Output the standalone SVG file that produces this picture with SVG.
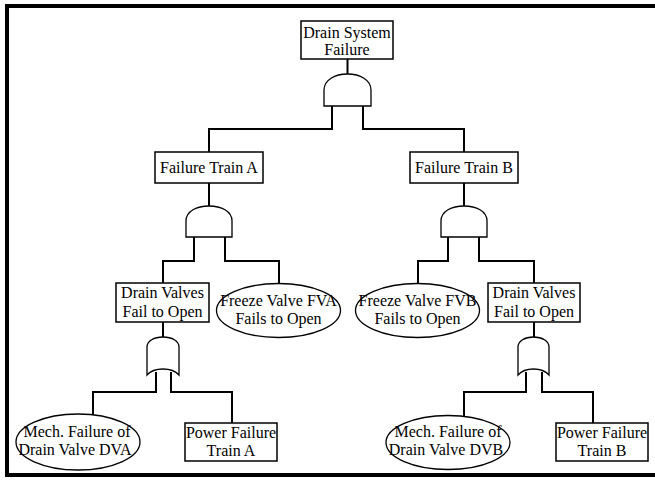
<svg xmlns="http://www.w3.org/2000/svg" width="655" height="480" viewBox="0 0 655 480" font-family="Liberation Serif, DejaVu Serif, serif">
<style>
.b{fill:#fff;stroke:#000;stroke-width:1.5}
.g{fill:#fff;stroke:#000;stroke-width:1.3}
.c{fill:none;stroke:#000;stroke-width:2}
.t{font-size:16px;text-anchor:middle;fill:#000}
</style>
<rect x="0" y="0" width="655" height="480" fill="#fff"/>
<path d="M655,6 H7 V475 H655" fill="none" stroke="#000" stroke-width="4"/>
<g id="connectors">
<path class="c" d="M347.5,59 V74"/>
<path class="c" d="M332,106 V129 H209 V152"/>
<path class="c" d="M363,106 V129 H464 V152"/>
<path class="c" d="M209,183 V206"/>
<path class="c" d="M194,237 V261 H163 V283"/>
<path class="c" d="M225,237 V261 H279 V284"/>
<path class="c" d="M464,183 V206"/>
<path class="c" d="M448,237 V261 H418 V284"/>
<path class="c" d="M479,237 V261 H534 V283"/>
<path class="c" d="M163,322 V337"/>
<path class="c" d="M156,372 V392 H93 V415"/>
<path class="c" d="M171,372 V392 H232 V423"/>
<path class="c" d="M534,322 V337"/>
<path class="c" d="M526,372 V392 H464 V416"/>
<path class="c" d="M542,372 V392 H593 V423"/>
</g>
<g class="t" font-family="Liberation Serif, DejaVu Serif, serif">
<g id="top">
<rect class="b" x="301" y="21" width="92" height="38"/>
<text x="347" y="37.5">Drain System</text>
<text x="347" y="55">Failure</text>
</g>
<g id="gate-top">
<path class="g" d="M324,106 V90 C324,80 335,74 347.5,74 C360,74 371,80 371,90 V106 Z"/>
</g>
<g id="trainA">
<rect class="b" x="155" y="152" width="108" height="31"/>
<text x="209" y="173">Failure Train A</text>
</g>
<g id="gate-A">
<path class="g" d="M186,237 V221 C186,211 197,206 209,206 C221,206 232,211 232,221 V237 Z"/>
</g>
<g id="trainB">
<rect class="b" x="410" y="152" width="108" height="31"/>
<text x="464" y="173">Failure Train B</text>
</g>
<g id="gate-B">
<path class="g" d="M441,237 V221 C441,211 452,206 464,206 C476,206 487,211 487,221 V237 Z"/>
</g>
<g id="drainA">
<rect class="b" x="116" y="283" width="93" height="39"/>
<text x="162.5" y="298">Drain Valves</text>
<text x="162.5" y="317">Fail to Open</text>
</g>
<g id="freezeA">
<ellipse class="g" cx="278.5" cy="310.5" rx="62" ry="27"/>
<text x="278.5" y="306">Freeze Valve FVA</text>
<text x="278.5" y="324">Fails to Open</text>
</g>
<g id="freezeB">
<ellipse class="g" cx="417.5" cy="310.5" rx="62" ry="27"/>
<text x="417.5" y="306">Freeze Valve FVB</text>
<text x="417.5" y="324">Fails to Open</text>
</g>
<g id="drainB">
<rect class="b" x="488" y="283" width="92" height="39"/>
<text x="534" y="298">Drain Valves</text>
<text x="534" y="317">Fail to Open</text>
</g>
<g id="or-A">
<path class="g" d="M147,375 V347 C147,341 154,337 163,337 C172,337 179,341 179,347 V375 C172,367 154,367 147,375 Z"/>
</g>
<g id="or-B">
<path class="g" d="M518,375 V347 C518,341 525,337 533.5,337 C542,337 549,341 549,347 V375 C542,367 525,367 518,375 Z"/>
</g>
<g id="mechA">
<ellipse class="g" cx="78" cy="442" rx="62" ry="28"/>
<text x="77" y="437">Mech. Failure of</text>
<text x="75" y="455">Drain Valve DVA</text>
</g>
<g id="powerA">
<rect class="b" x="185" y="423" width="92" height="38"/>
<text x="231" y="438">Power Failure</text>
<text x="231" y="456">Train A</text>
</g>
<g id="mechB">
<ellipse class="g" cx="448" cy="442.5" rx="62" ry="27"/>
<text x="448" y="437">Mech. Failure of</text>
<text x="446" y="455">Drain Valve DVB</text>
</g>
<g id="powerB">
<rect class="b" x="556" y="423" width="92" height="38"/>
<text x="602" y="438">Power Failure</text>
<text x="602" y="456">Train B</text>
</g>
</g>
</svg>
